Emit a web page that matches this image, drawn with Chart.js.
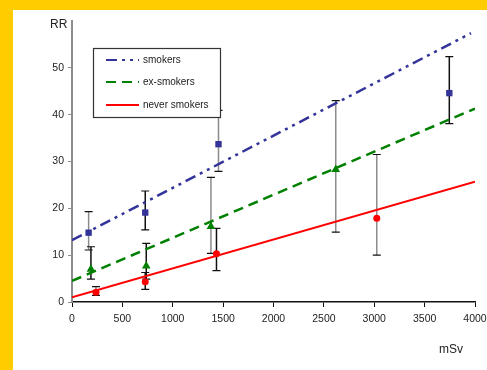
<!DOCTYPE html>
<html>
<head>
<meta charset="utf-8">
<script src="https://cdn.jsdelivr.net/npm/chart.js@4"></script>
<style>
    body { margin: 0; background: #ffcc00; }
    #wrap { position: absolute; left: 13px; top: 10px; width: 474px; height: 360px; background: #fff; }
</style>
</head>
<body>
<div id="wrap"><canvas id="chart" width="474" height="360"></canvas></div>
<script>
// Data (RR vs. mSv)
const smokersX = [165, 727, 1454, 3745];
const smokersY = [14.8, 19.1, 33.7, 44.6];
const smokersLo = [11.1, 15.4, 27.9, 38.1];
const smokersHi = [19.3, 23.7, 40.9, 52.4];

const exX = [188, 737, 1379, 2618];
const exY = [7.0, 7.7, 16.1, 28.3];
const exLo = [4.9, 4.9, 10.4, 14.9];
const exHi = [11.8, 12.5, 26.6, 43.0];

const neverX = [238, 727, 1434, 3025];
const neverY = [2.1, 4.3, 10.3, 17.9];
const neverLo = [1.4, 2.7, 6.7, 10.0];
const neverHi = [3.3, 6.3, 15.7, 31.5];

// fitted lines
const smokersLineX = [0, 3960];
const smokersLineY = [13.2, 57.4];
const exLineX = [0, 4000];
const exLineY = [4.5, 41.3];
const neverLineX = [0, 4000];
const neverLineY = [1.0, 25.7];

const xTicks = [0, 500, 1000, 1500, 2000, 2500, 3000, 3500, 4000];
const yTicks = [0, 10, 20, 30, 40, 50];
const legendLabels = ['smokers', 'ex-smokers', 'never smokers'];

const BLUE = '#333399', GREEN = '#008000', RED = '#ff0000';
const GRAY = '#8c8c8c', BLACK = '#111';
const FONT = '"Liberation Sans", Arial, sans-serif';

function pts(xs, ys) {
    return xs.map((x, i) => ({ x: x, y: ys[i] }));
}

// error bar groups
const errGroups = [
    { x: smokersX, lo: smokersLo, hi: smokersHi, colors: [GRAY, BLACK, GRAY, BLACK] },
    { x: exX, lo: exLo, hi: exHi, colors: [BLACK, BLACK, GRAY, GRAY] },
    { x: neverX, lo: neverLo, hi: neverHi, colors: [GRAY, BLACK, BLACK, GRAY] }
];

const errorBars = {
    id: 'errorBars',
    beforeDatasetsDraw(chart) {
        const ctx = chart.ctx;
        const xs = chart.scales.x, ys = chart.scales.y;
        ctx.save();
        errGroups.forEach(g => {
            g.x.forEach((x, i) => {
                const px = xs.getPixelForValue(x);
                const top = ys.getPixelForValue(g.hi[i]);
                const bot = ys.getPixelForValue(g.lo[i]);
                ctx.strokeStyle = g.colors[i];
                ctx.lineWidth = 1.5;
                ctx.beginPath();
                ctx.moveTo(px, top);
                ctx.lineTo(px, bot);
                ctx.stroke();
                ctx.strokeStyle = BLACK;
                ctx.lineWidth = 1.2;
                ctx.beginPath();
                ctx.moveTo(px - 4, top);
                ctx.lineTo(px + 4, top);
                ctx.moveTo(px - 4, bot);
                ctx.lineTo(px + 4, bot);
                ctx.stroke();
            });
        });
        ctx.restore();
    }
};

const legendBox = {
    id: 'legendBox',
    afterDraw(chart) {
        const ctx = chart.ctx;
        ctx.save();
        ctx.fillStyle = '#fff';
        ctx.fillRect(80, 38, 127, 69);
        ctx.strokeStyle = '#333';
        ctx.lineWidth = 1.2;
        ctx.strokeRect(80.5, 38.5, 127, 69);
        const styles = [
            { color: BLUE, dash: [11, 5, 3, 5, 3, 5] },
            { color: GREEN, dash: [10, 6] },
            { color: RED, dash: [] }
        ];
        const rows = [50, 72, 95];
        ctx.font = '10px ' + FONT;
        ctx.textBaseline = 'middle';
        legendLabels.forEach((label, i) => {
            ctx.strokeStyle = styles[i].color;
            ctx.lineWidth = 2.2;
            ctx.setLineDash(styles[i].dash);
            ctx.beginPath();
            ctx.moveTo(93, rows[i]);
            ctx.lineTo(126, rows[i]);
            ctx.stroke();
            ctx.setLineDash([]);
            ctx.fillStyle = '#222';
            ctx.fillText(label, 130, rows[i]);
        });
        // axis titles
        ctx.font = '12px ' + FONT;
        ctx.fillStyle = '#222';
        ctx.textBaseline = 'alphabetic';
        ctx.fillText('RR', 37, 18);
        ctx.fillText('mSv', 426, 343);
        ctx.restore();
    }
};

new Chart(document.getElementById('chart'), {
    type: 'scatter',
    data: {
        datasets: [
            { type: 'line', data: pts(smokersLineX, smokersLineY), borderColor: BLUE, borderWidth: 2.5,
              borderDash: [11, 5, 3, 5, 3, 5], pointRadius: 0, fill: false },
            { type: 'line', data: pts(exLineX, exLineY), borderColor: GREEN, borderWidth: 2.5,
              borderDash: [10, 6], pointRadius: 0, fill: false },
            { type: 'line', data: pts(neverLineX, neverLineY), borderColor: RED, borderWidth: 2,
              pointRadius: 0, fill: false },
            { data: pts(smokersX, smokersY), pointStyle: 'rect', pointRadius: 4.5,
              backgroundColor: BLUE, borderColor: BLUE, borderWidth: 0 },
            { data: pts(exX, exY), pointStyle: 'triangle', pointRadius: 5,
              backgroundColor: GREEN, borderColor: GREEN, borderWidth: 0 },
            { data: pts(neverX, neverY), pointStyle: 'circle', pointRadius: 3.5,
              backgroundColor: RED, borderColor: RED, borderWidth: 0 }
        ]
    },
    options: {
        responsive: false,
        animation: false,
        events: [],
        layout: { padding: { top: 11, right: 0, left: 0, bottom: 0 } },
        plugins: { legend: { display: false }, tooltip: { enabled: false } },
        scales: {
            x: {
                type: 'linear', min: 0, max: 4000,
                afterBuildTicks: s => { s.ticks = xTicks.map(v => ({ value: v })); },
                afterFit: s => { s.height = 68; s.paddingRight = 12; s.paddingLeft = 0; },
                border: { color: BLACK, width: 1.5 },
                grid: { drawOnChartArea: false, drawTicks: true, tickLength: 5, color: BLACK },
                ticks: { color: '#222', padding: 6, maxRotation: 0, callback: v => String(v),
                         font: { family: FONT, size: 10.5 } }
            },
            y: {
                type: 'linear', min: 0, max: 60,
                afterBuildTicks: s => { s.ticks = yTicks.map(v => ({ value: v })); },
                afterFit: s => { s.width = 59; },
                border: { color: GRAY, width: 2 },
                grid: { drawOnChartArea: false, drawTicks: true, tickLength: 4, color: GRAY },
                ticks: { color: '#222', padding: 4, callback: v => String(v),
                         font: { family: FONT, size: 10.5 } }
            }
        }
    },
    plugins: [errorBars, legendBox]
});
</script>
</body>
</html>
